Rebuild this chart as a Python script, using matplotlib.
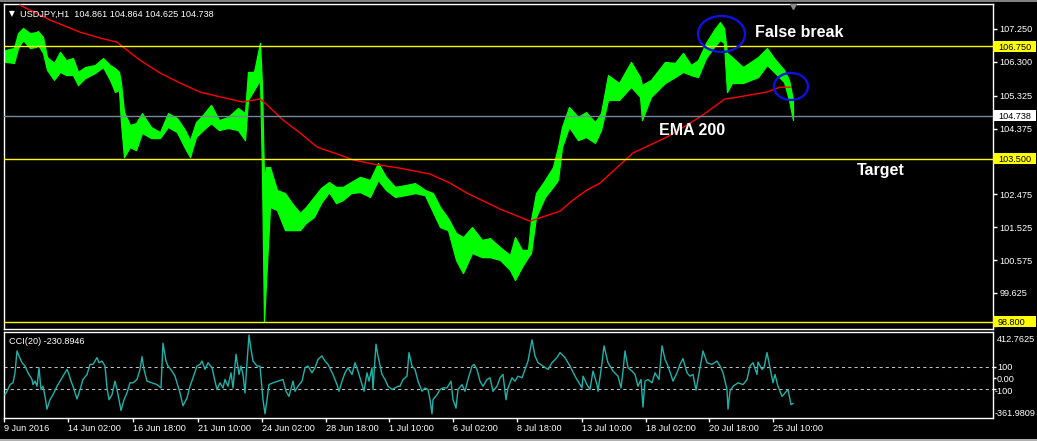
import matplotlib
matplotlib.use('Agg')
import matplotlib.pyplot as plt
from matplotlib import font_manager
from matplotlib.patches import Ellipse, Rectangle
import matplotlib.transforms as mtrans

plt.rcParams['font.family'] = ['Liberation Sans', 'DejaVu Sans']

# ---------------- data ----------------
symbol_header = 'USDJPY,H1  104.861 104.864 104.625 104.738'
cci_header = 'CCI(20) -230.8946'

# hourly bars (index of bar), high / low envelope of the green OHLC bars
bar_idx = [1, 10, 14, 19, 26, 32, 34, 39, 43, 50,
           56, 62, 69, 74, 81, 91, 99, 106, 111, 115,
           117, 120, 126, 132, 138, 147, 156, 164, 173, 181,
           186, 192, 199, 207, 215, 224, 234, 241, 244, 250,
           256, 258, 260, 262, 266, 273, 281, 288, 296, 302,
           310, 317, 325, 332, 339, 347, 356, 366, 374, 382,
           391, 401, 411, 421, 429, 436, 444, 452, 459, 468,
           478, 486, 496, 506, 511, 518, 524, 527, 532, 541,
           549, 554, 558, 565, 574, 582, 591, 597, 604, 615,
           627, 636, 638, 647, 661, 671, 679, 687, 694, 702,
           710, 716, 720, 723, 728, 739, 754, 763, 770, 780,
           785, 789]
high = [106.64, 106.70, 107.13, 107.28, 107.13, 107.16, 107.19, 107.02, 106.44, 106.27,
        106.59, 106.35, 106.41, 106.01, 106.15, 106.21, 106.41, 106.21, 106.12, 106.01,
        105.69, 104.85, 104.48, 104.53, 104.82, 104.42, 104.27, 104.82, 104.68, 104.33,
        104.04, 104.56, 104.77, 105.06, 104.62, 104.71, 104.97, 104.82, 106.01, 106.01,
        106.85, 105.63, 102.89, 103.26, 103.26, 102.60, 102.51, 102.22, 101.94, 102.11,
        102.40, 102.66, 102.83, 102.69, 102.69, 102.83, 102.98, 102.89, 103.38, 102.98,
        102.69, 102.74, 102.80, 102.60, 102.51, 102.11, 101.79, 101.36, 101.24, 101.53,
        101.16, 101.21, 100.95, 100.72, 101.24, 100.87, 100.87, 101.73, 102.51, 102.89,
        103.26, 103.84, 104.42, 105.00, 104.71, 104.85, 104.56, 104.82, 105.92, 105.69,
        106.30, 105.86, 105.63, 105.78, 106.30, 106.27, 106.56, 106.21, 106.35, 106.85,
        107.22, 107.45, 107.28, 106.56, 106.44, 106.15, 106.44, 106.70, 106.41, 106.07,
        105.78, 105.20]
low = [106.30, 106.27, 106.70, 106.93, 106.70, 106.73, 106.79, 106.56, 106.07, 105.78,
       106.01, 105.92, 105.92, 105.63, 105.83, 105.98, 106.15, 105.78, 105.43, 105.49,
       104.53, 103.55, 103.84, 103.75, 104.25, 104.10, 104.10, 104.42, 104.27, 103.81,
       103.55, 104.13, 104.33, 104.53, 104.33, 104.39, 104.33, 104.04, 105.20, 105.49,
       105.78, 103.09, 98.79, 99.91, 102.11, 102.02, 101.44, 101.44, 101.44, 101.65,
       101.82, 102.22, 102.54, 102.22, 102.31, 102.51, 102.54, 102.40, 102.89, 102.60,
       102.40, 102.45, 102.51, 102.45, 101.96, 101.53, 101.44, 100.58, 100.20, 100.78,
       100.66, 100.66, 100.58, 100.29, 100.00, 100.38, 100.66, 100.78, 101.82, 102.40,
       102.69, 102.89, 103.84, 104.42, 104.04, 104.13, 103.96, 104.33, 105.20, 105.20,
       105.58, 105.29, 104.62, 105.29, 105.69, 105.86, 106.01, 105.92, 105.86, 106.41,
       106.73, 106.93, 106.85, 105.43, 105.69, 105.69, 105.86, 106.21, 106.01, 105.72,
       105.20, 104.62]

# EMA 200 (red)
ema_idx = [16, 46, 76, 96, 113, 119, 136, 156, 176, 196,
           216, 239, 256, 263, 279, 296, 313, 336, 349, 369,
           396, 426, 446, 463, 496, 526, 556, 569, 583, 596,
           629, 663, 696, 721, 729, 763, 776, 786]
ema_val = [107.94, 107.51, 107.16, 106.99, 106.87, 106.73, 106.35, 105.98, 105.69, 105.43,
           105.29, 105.14, 105.23, 105.06, 104.62, 104.25, 103.84, 103.61, 103.47, 103.35,
           103.23, 103.06, 102.80, 102.51, 102.05, 101.70, 101.99, 102.31, 102.60, 102.80,
           103.67, 104.13, 104.71, 105.23, 105.26, 105.43, 105.57, 105.57]

# horizontal levels
support_levels = [106.75, 103.50, 98.80]
bid_price = 104.738

# CCI(20)
cci_idx = [1, 3, 6, 9, 11, 13, 15, 18, 21, 24, 28, 29, 31, 33, 35, 37, 39, 41, 43, 46,
           49, 53, 56, 59, 63, 65, 67, 69, 73, 76, 79, 83, 86, 89, 93, 95, 98, 101, 103, 105,
           108, 111, 113, 115, 117, 120, 123, 126, 129, 133, 136, 138, 140, 143, 148, 153, 157, 159, 162, 164,
           168, 171, 176, 179, 183, 186, 189, 193, 196, 198, 201, 204, 208, 211, 213, 216, 219, 221, 224, 227,
           229, 232, 235, 237, 239, 241, 243, 245, 247, 249, 253, 256, 259, 261, 263, 265, 269, 274, 279, 282,
           285, 289, 291, 294, 298, 301, 304, 308, 311, 314, 318, 321, 324, 329, 333, 335, 338, 341, 344, 348,
           351, 354, 358, 360, 363, 365, 368, 369, 372, 374, 378, 381, 384, 388, 391, 394,
           396, 399, 403, 405, 408, 411, 414, 418, 421, 424, 426, 428, 429, 433, 436, 439, 443, 447, 449, 452,
           454, 458, 461, 464, 468, 470, 473, 476, 479, 483, 486, 489, 493, 496, 499, 502, 504, 508, 511, 514,
           518, 521, 524, 528, 531, 534, 539, 544, 548, 553, 556, 561, 566, 571, 574, 578, 579, 583, 586, 589,
           593, 594, 598, 600, 604, 609, 614, 617, 619, 621, 624, 628, 631, 634, 637, 639, 641, 644, 648, 651,
           655, 658, 661, 664, 669, 673, 676, 679, 683, 686, 689, 692, 696, 699, 703, 708, 713, 716, 719, 723,
           724, 726, 729, 734, 739, 743, 746, 749, 753, 754, 758, 760, 763, 766, 769, 771, 774, 778, 781, 784,
           787, 789]
cci_val = [-152, -121, -61, -45, 45, 242, 197, 136, 106, 45, -15, -61, -30, -76, 91, -106, -76, -167, -282, -197,
           -152, -76, -30, 15, 76, 30, -30, -76, -191, -106, -15, 30, 121, 121, 182, 136, 151, 106, -91, -197,
           -152, -30, -106, -197, -294, -197, -136, -45, -45, -15, 76, 191, 76, -30, -45, -61, -91, 312, 151, 106,
           61, 15, -136, -252, -182, -76, 0, 106, 121, 151, 76, 136, 91, -30, -106, -45, -91, -15, -76, 45,
           -91, 212, 30, 106, 30, -136, 136, 385, 258, 151, 106, 106, -197, -324, -197, -61, -45, -30, -15, -121,
           -167, -30, -121, -76, -30, 91, 106, 45, 91, 167, 197, 151, 121, 30, -61, -121, -30, 45, 91, 30,
           136, 61, -61, -121, 45, -30, 91, -106, 303, 197, 30, -15, -76, -106, -91, -76,
           -76, -15, 15, 227, 106, 76, -30, -121, -91, -106, -197, -324, -197, -152, -106, -91, -91, -30, -197, -273,
           -106, -61, -121, -15, 106, 121, 76, -30, -76, -15, 0, -121, -76, 0, 30, -197, -91, 0, -30, 15,
           0, 76, 151, 342, 197, 136, 106, 76, 136, 182, 227, 182, 106, 15, -30, -91, 15, -61, -106, 61,
           -61, -121, 136, 288, 136, 61, 15, -91, 61, 242, 91, 61, 30, -76, -15, -264, -30, -15, -45, 45,
           -15, 288, 167, 106, -30, 45, 121, 173, 45, 15, 30, -112, 91, 242, 136, 121, 151, 106, 45, -106,
           -282, -121, -76, -45, -61, -15, 106, 136, 30, 142, 76, 91, 227, 91, -45, 30, -76, -167, -136, -106,
           -242, -231]
cci_levels = [100, -100]
cci_max, cci_min = 412.7625, -361.9809

# axes ticks / labels
price_ticks = [107.250, 106.300, 105.325, 104.375, 103.425, 102.475, 101.525, 100.575, 99.625, 98.675]
hidden_price_ticks = [103.425, 98.675]   # covered by the highlighted level labels
time_tick_idx = [0, 64, 129, 194, 258, 322, 385, 449, 513, 578, 642, 705, 769]
time_tick_labels = ['9 Jun 2016', '14 Jun 02:00', '16 Jun 18:00', '21 Jun 10:00', '24 Jun 02:00',
                    '28 Jun 18:00', '1 Jul 10:00', '6 Jul 02:00', '8 Jul 18:00', '13 Jul 10:00',
                    '18 Jul 02:00', '20 Jul 18:00', '25 Jul 10:00']

# ---------------- figure ----------------
W, H = 1037, 441
fig = plt.figure(figsize=(W / 100, H / 100), dpi=100, facecolor='black')


def frac(x0, y0, x1, y1):
    return [x0 / W, 1 - y1 / H, (x1 - x0) / W, (y1 - y0) / H]


ax = fig.add_axes(frac(4, 4, 993, 329))
ax2 = fig.add_axes(frac(4, 332, 993, 418))
FS = 6.6
PX_PER_PRICE = 34.62
XMAX = 989
YLO, YHI = 98.585, 107.972

for a in (ax, ax2):
    a.set_facecolor('black')
    for s in a.spines.values():
        s.set_color('white')
        s.set_linewidth(1)

# --- main price panel
ax.fill_between(bar_idx, low, high, color='#00FF00', lw=0.9, zorder=2)
ax.plot(ema_idx, ema_val, color='#FF0000', lw=1, zorder=3)
for lv in support_levels:
    ax.axhline(lv, color='#FFFF00', lw=1, zorder=4)
ax.axhline(bid_price, color='#778899', lw=1, zorder=4)

ax.add_patch(Ellipse((717.5, 107.106), 47, 36 / PX_PER_PRICE, fill=False,
                     ec='#1010E0', lw=1.7, zorder=6))
ax.add_patch(Ellipse((787, 105.59), 34, 27 / PX_PER_PRICE, fill=False,
                     ec='#1010E0', lw=1.7, zorder=6))
ax.plot([789], [107.90], marker='v', color='#8a8a8a', markersize=5, zorder=6)

names = {f.name for f in font_manager.fontManager.ttflist}
if 'Liberation Sans Narrow' in names:
    ann_fam, ann_fs = 'Liberation Sans Narrow', 13.5
else:
    ann_fam, ann_fs = 'Liberation Sans', 11.5
for txt, x, y in [('False break', 751, 107.03), ('EMA 200', 655, 104.19), ('Target', 853, 103.03)]:
    ax.text(x, y, txt, color='white', fontsize=ann_fs, fontweight='bold',
            family=ann_fam, va='baseline', ha='left', zorder=7)

ax.set_xlim(0, XMAX)
ax.set_ylim(YLO, YHI)
ax.set_xticks([])
ax.yaxis.tick_right()
ax.set_yticks(price_ticks)
ax.set_yticklabels(['' if v in hidden_price_ticks else f'{v:.3f}' for v in price_ticks])
ax.tick_params(axis='y', direction='out', length=3, width=1, color='white',
               labelcolor='white', labelsize=FS, pad=1.5)

trans = mtrans.blended_transform_factory(ax.transAxes, ax.transData)
for val, fc in [(106.75, '#FFFF00'), (bid_price, '#FFFFFF'), (103.5, '#FFFF00'), (98.8, '#FFFF00')]:
    r = Rectangle((1.0, val - 5.5 / PX_PER_PRICE), 43 / XMAX, 11 / PX_PER_PRICE,
                  transform=trans, fc=fc, ec='none', clip_on=False, zorder=10)
    ax.add_patch(r)
    ax.text(1.0 + 5 / XMAX, val, f'{val:.3f}', transform=trans, color='black', fontsize=FS,
            va='center_baseline', ha='left', clip_on=False, zorder=11)
ax.set_xlim(0, XMAX)
ax.set_ylim(YLO, YHI)

# --- CCI panel
for lv in cci_levels:
    ax2.axhline(lv, color='#C0C0C0', lw=0.75, linestyle=(0, (3, 3)), zorder=2)
ax2.plot(cci_idx, cci_val, color='#20B2AA', lw=1, zorder=3)
ax2.set_xlim(0, XMAX)
ax2.set_ylim(cci_min, cci_max)
ax2.yaxis.tick_right()
ax2.set_yticks([100, 0, -100])
ax2.set_yticklabels([])
ax2.tick_params(axis='y', direction='out', length=2, width=1, color='white')
ax2.set_xticks(time_tick_idx)
ax2.set_xticklabels(time_tick_labels, ha='left')
ax2.tick_params(axis='x', direction='out', length=3, width=1, color='white',
                labelcolor='white', labelsize=FS, pad=1.5)

for txt, x, y in [('412.7625', 997, 338), ('100', 997, 367), ('0.00', 997, 379),
                  ('-100', 995, 390), ('-361.9809', 995, 412)]:
    fig.text(x / W, 1 - y / H, txt, color='white', fontsize=FS, va='center_baseline', ha='left')

# headers
fig.text(9 / W, 1 - 13 / H, '\u25bc', color='white', fontsize=5.5, va='center_baseline', ha='left',
         family=['DejaVu Sans'])
fig.text(20 / W, 1 - 13 / H, symbol_header, color='white', fontsize=FS, va='center_baseline', ha='left')
fig.text(9 / W, 1 - 341 / H, cci_header, color='white', fontsize=FS, va='center_baseline', ha='left')

# window border strips
fig.add_artist(Rectangle((0, 1 - 2 / H), 1, 2 / H, transform=fig.transFigure,
                         fc='#808080', ec='none'))
fig.add_artist(Rectangle((0, 0), 1, 2.5 / H, transform=fig.transFigure,
                         fc='#b0b0b0', ec='none'))

fig.savefig('out.png', dpi=100, facecolor='black')
